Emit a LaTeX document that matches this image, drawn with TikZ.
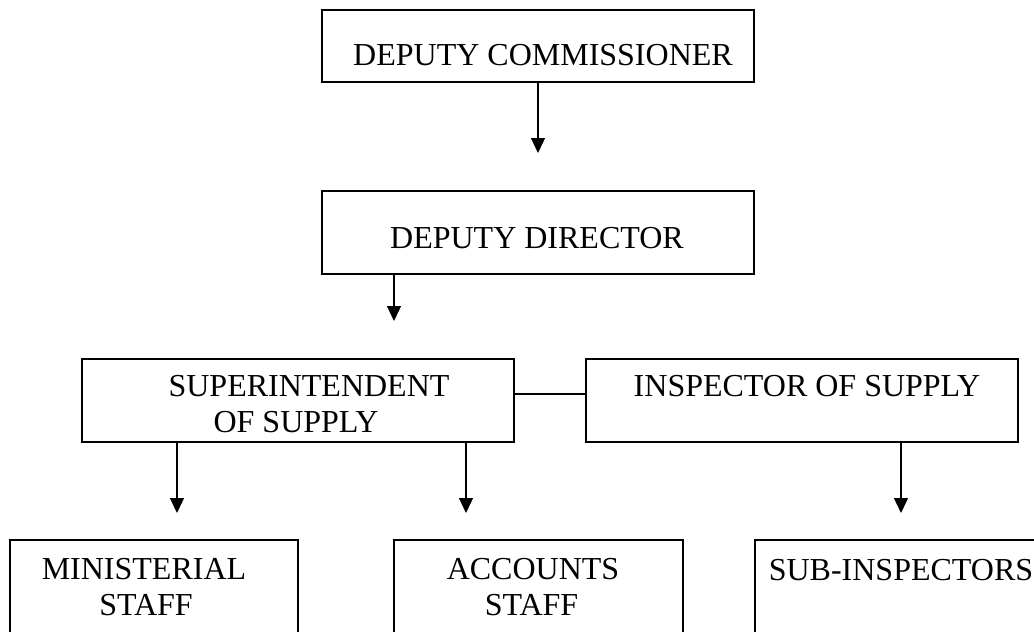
\documentclass[tikz,border=0pt]{standalone}
\usepackage{fontspec}
\setmainfont{Liberation Serif}
\usetikzlibrary{arrows.meta}
\tikzset{
  orgbox/.style={draw=black, line width=1.3pt, rectangle, inner sep=0pt},
  lbl/.style={inner sep=0pt, anchor=base, font=\fontsize{32}{36}\selectfont},
  arr/.style={line width=1.3pt, -{Triangle[length=15pt,width=14pt]}},
  link/.style={line width=1.3pt}
}
\begin{document}
\begin{tikzpicture}[x=1pt,y=-1pt]
\useasboundingbox (0,0) rectangle (1034,632);
\clip (0,0) rectangle (1034,632);
\fill[white] (0,0) rectangle (1034,632);
% boxes
\node[orgbox, minimum width=432pt, minimum height=72pt] (dc) at (538,46) {};
\node[orgbox, minimum width=432pt, minimum height=83pt] (dd) at (538,232.5) {};
\node[orgbox, minimum width=432pt, minimum height=83pt] (sup) at (298,400.5) {};
\node[orgbox, minimum width=432pt, minimum height=83pt] (insp) at (802,400.5) {};
\node[orgbox, minimum width=288pt, minimum height=140pt] (min) at (154,610) {};
\node[orgbox, minimum width=289pt, minimum height=140pt] (acc) at (538.5,610) {};
\node[orgbox, minimum width=288pt, minimum height=140pt] (sub) at (899,610) {};
% texts
\node[lbl] (tdc) at (543,65) {DEPUTY COMMISSIONER};
\node[lbl] (tdd) at (537,248) {DEPUTY DIRECTOR};
\node[lbl] (tsup1) at (309,396) {SUPERINTENDENT};
\node[lbl] (tsup2) at (296,432) {OF SUPPLY};
\node[lbl] (tinsp) at (807,396) {INSPECTOR OF SUPPLY};
\node[lbl] (tmin1) at (144,579) {MINISTERIAL};
\node[lbl] (tmin2) at (146,615) {STAFF};
\node[lbl] (tacc1) at (533,579) {ACCOUNTS};
\node[lbl] (tacc2) at (531.5,615) {STAFF};
\node[lbl] (tsub) at (901,580) {SUB-INSPECTORS};
% free ends
\coordinate (e1) at (538,153);
\coordinate (e2) at (394,321);
\coordinate (e3) at (177,513);
\coordinate (e4) at (466,513);
\coordinate (e5) at (901,513);
\coordinate (cy) at (0,394);
% connectors
\draw[arr] (dc.south) -- (e1);
\draw[arr] (dd.south -| e2) -- (e2);
\draw[arr] (sup.south -| e3) -- (e3);
\draw[arr] (sup.south -| e4) -- (e4);
\draw[arr] (insp.south -| e5) -- (e5);
\draw[link] (sup.east |- cy) -- (insp.west |- cy);
\end{tikzpicture}
\end{document}
